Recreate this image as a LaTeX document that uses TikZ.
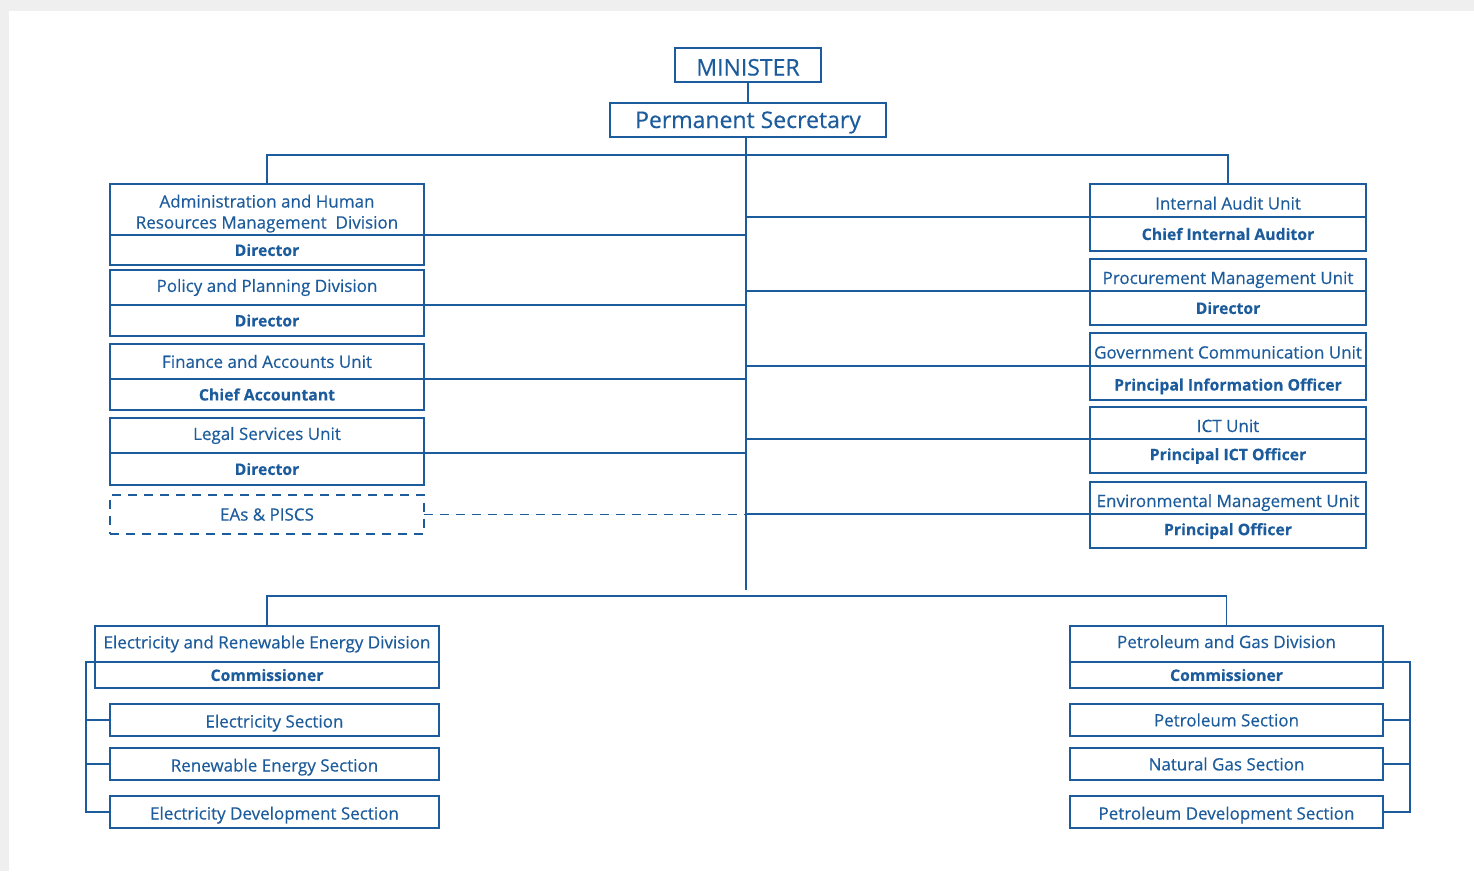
\documentclass[tikz,border=0pt]{standalone}
\usepackage{fontspec}
\setmainfont{Open Sans}[UprightFeatures={FakeBold=0.35},BoldFeatures={FakeBold=0.25}]
\usetikzlibrary{positioning}
\definecolor{orgBlue}{HTML}{1D5C9C}
\definecolor{bgGrey}{HTML}{EFEFEF}
\begin{document}
\begin{tikzpicture}[x=1pt,y=-1pt,every node/.style={font=\fontsize{17}{21}\selectfont,text=orgBlue}]
  \tikzset{unit/.style n args={2}{draw=orgBlue,line width=1.5pt,outer sep=0pt,inner sep=0pt,align=center,
        minimum width=#1,minimum height=#2},
    role/.style={font=\fontsize{15.8}{21}\selectfont\bfseries},
    low/.style={text height=19pt,text depth=1pt},
    mid/.style={text height=16pt,text depth=1pt},
    link/.style={draw=orgBlue,line width=1.5pt}}
  \fill[bgGrey] (0,0) rectangle (1474,871);
  \fill[white] (9,11) rectangle (1474,871);
  \useasboundingbox (0,0) rectangle (1474,871);
  \node[unit={146pt}{34pt},font=\fontsize{23}{26}\selectfont,text height=21pt,text depth=0pt] (min) at (748,65){MINISTER};
  \node[unit={276pt}{34pt},font=\fontsize{23}{26}\selectfont,text height=18pt,text depth=2pt] (ps) at (748,120){Permanent Secretary};
  \coordinate (trunk) at (746,137);
  \coordinate (bar) at (746,155);
  \coordinate (bar2) at (746,596);
  \coordinate (busL) at (86,662);
  \coordinate (busR) at (1410,662);
  \node[unit={314pt}{51pt},anchor=north,text height=40pt,text depth=2pt] (adm) at (267,184){Administration and Human\\Resources Management\ \ Division};
  \node[unit={314pt}{30pt},role,below=0pt of adm] (admD){Director};
  \node[unit={314pt}{35pt},anchor=north] (pol) at (267,270){Policy and Planning Division};
  \node[unit={314pt}{31pt},role,below=0pt of pol] (polD){Director};
  \node[unit={314pt}{35pt},anchor=north] (fin) at (267,344){Finance and Accounts Unit};
  \node[unit={314pt}{31pt},role,below=0pt of fin] (finD){Chief Accountant};
  \node[unit={314pt}{35pt},anchor=north] (leg) at (267,418){Legal Services Unit};
  \node[unit={314pt}{32pt},role,below=0pt of leg] (legD){Director};
  \node[unit={314pt}{39pt},anchor=north,dash pattern=on 9pt off 7pt] (eas) at (267,495){EAs \& PISCS};
  \node[unit={276pt}{33pt},anchor=north,low] (aud) at (1228,184){Internal Audit Unit};
  \node[unit={276pt}{34pt},role,below=0pt of aud] (audD){Chief Internal Auditor};
  \node[unit={276pt}{32pt},anchor=north,low] (proc) at (1228,259){Procurement Management Unit};
  \node[unit={276pt}{34pt},role,below=0pt of proc] (procD){Director};
  \node[unit={276pt}{33pt},anchor=north,low] (gov) at (1228,333){Government Communication Unit};
  \node[unit={276pt}{34pt},role,below=0pt of gov,mid] (govD){Principal Information Officer};
  \node[unit={276pt}{32pt},anchor=north,low] (ict) at (1228,407){ICT Unit};
  \node[unit={276pt}{34pt},role,below=0pt of ict] (ictD){Principal ICT Officer};
  \node[unit={276pt}{32pt},anchor=north,low] (env) at (1228,482){Environmental Management Unit};
  \node[unit={276pt}{34pt},role,below=0pt of env] (envD){Principal Officer};
  \node[unit={344pt}{36pt},anchor=north] (ere) at (267,626){Electricity and Renewable Energy Division};
  \node[unit={344pt}{26pt},role,below=0pt of ere] (ereD){Commissioner};
  \node[unit={329pt}{32pt},anchor=north,mid] (elec) at (274.5,704){Electricity Section};
  \node[unit={329pt}{32pt},anchor=north,mid] (renew) at (274.5,748){Renewable Energy Section};
  \node[unit={329pt}{32pt},anchor=north,mid] (elecDev) at (274.5,796){Electricity Development Section};
  \node[unit={313pt}{36pt},anchor=north,text height=12pt,text depth=4pt] (pgd) at (1226.5,626){Petroleum and Gas Division};
  \node[unit={313pt}{26pt},role,below=0pt of pgd] (pgdD){Commissioner};
  \node[unit={313pt}{32pt},anchor=north] (pet) at (1226.5,704){Petroleum Section};
  \node[unit={313pt}{32pt},anchor=north] (gas) at (1226.5,748){Natural Gas Section};
  \node[unit={313pt}{32pt},anchor=north,mid] (petDev) at (1226.5,796){Petroleum Development Section};
  \draw[link] (min) -- (ps);
  \draw[link] (trunk) -- ++(0,453);
  \draw[link] (adm.north) -- (adm.north |- bar) -- (aud.north |- bar) -- (aud.north);
  \draw[link] (adm.south east) -- (adm.south east -| trunk);
  \draw[link] (pol.south east) -- (pol.south east -| trunk);
  \draw[link] (fin.south east) -- (fin.south east -| trunk);
  \draw[link] (leg.south east) -- (leg.south east -| trunk);
  \draw[link,dash pattern=on 9pt off 7pt] (eas.east) -- (eas.east -| trunk);
  \draw[link] (aud.south west) -- (aud.south west -| trunk);
  \draw[link] (proc.south west) -- (proc.south west -| trunk);
  \draw[link] (gov.south west) -- (gov.south west -| trunk);
  \draw[link] (ict.south west) -- (ict.south west -| trunk);
  \draw[link] (env.south west) -- (env.south west -| trunk);
  \draw[link] (ere.north) -- (ere.north |- bar2) -- (pgd.north |- bar2) -- (pgd.north);
  \draw[link] (ere.south west) -- (busL) |- (elecDev.west);
  \draw[link] (busL |- elec.west) -- (elec.west);
  \draw[link] (busL |- renew.west) -- (renew.west);
  \draw[link] (pgd.south east) -- (busR) |- (petDev.east);
  \draw[link] (busR |- pet.east) -- (pet.east);
  \draw[link] (busR |- gas.east) -- (gas.east);
\end{tikzpicture}
\end{document}
